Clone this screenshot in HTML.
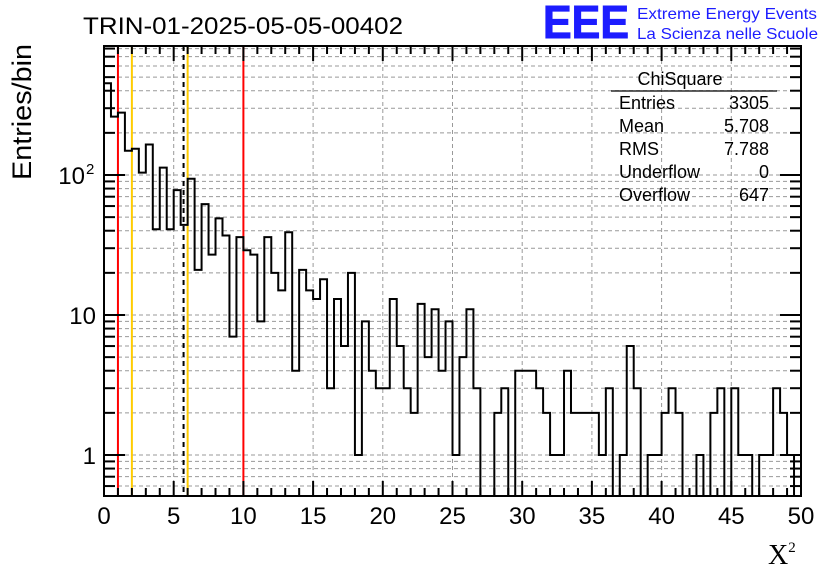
<!DOCTYPE html>
<html><head><meta charset="utf-8"><style>
html,body{margin:0;padding:0;background:#fff;}
svg text{font-family:"Liberation Sans",sans-serif;}
</style></head><body>
<svg id="c" width="836" height="572" viewBox="0 0 836 572">
<defs><clipPath id="pc"><rect x="104" y="46" width="697" height="450"/></clipPath></defs>
<g id="grid"></g>
<g id="marks" clip-path="url(#pc)"></g>
<g id="axes"></g>
<text x="83" y="34" font-size="24" textLength="320" lengthAdjust="spacingAndGlyphs">TRIN-01-2025-05-05-00402</text>
<text x="543" y="38" font-size="46" font-weight="bold" fill="#1c1cff" stroke="#1c1cff" stroke-width="1" textLength="86" lengthAdjust="spacingAndGlyphs">EEE</text>
<text x="637" y="19" font-size="16" fill="#1c1cff" textLength="180" lengthAdjust="spacingAndGlyphs">Extreme Energy Events</text>
<text x="637" y="39" font-size="16" fill="#1c1cff" textLength="181" lengthAdjust="spacingAndGlyphs">La Scienza nelle Scuole</text>
<text transform="translate(31,112) rotate(-90)" font-size="27" text-anchor="middle" textLength="136" lengthAdjust="spacingAndGlyphs">Entries/bin</text>
<text x="768" y="564" font-size="28" style="font-family:'Liberation Serif',serif">X<tspan font-size="15" dy="-12">2</tspan></text>
<g font-size="18">
<text x="680" y="85" text-anchor="middle">ChiSquare</text>
<line x1="611" y1="91" x2="777" y2="91" stroke="#000" stroke-width="1.2"/>
<text x="619" y="109">Entries</text><text x="769" y="109" text-anchor="end">3305</text>
<text x="619" y="132">Mean</text><text x="769" y="132" text-anchor="end">5.708</text>
<text x="619" y="155">RMS</text><text x="769" y="155" text-anchor="end">7.788</text>
<text x="619" y="178">Underflow</text><text x="769" y="178" text-anchor="end">0</text>
<text x="619" y="201">Overflow</text><text x="769" y="201" text-anchor="end">647</text>
</g>
</svg>
<script>
const binWidth = 0.5;
const binCounts = [452,261,279,149,154,104,165,41,113,41,78,44,94,21,62,27,49,37,7,36,
29,27,9,36,20,15,39,4,21,15,13,18,3,13,6,20,1,9,4,3,
3,13,6,3,2,12,5,11,4,9,1,5,11,3,0,0,2,3,0,4,
4,4,3,2,1,1,4,2,2,2,2,1,3,0,1,6,3,0,1,1,
2,3,2,0,0,1,0,2,3,0,3,1,1,0,1,1,3,2,1,0];
const xTicks = [0,5,10,15,20,25,30,35,40,45,50];
const yTickLabels = [[1,"1"],[10,"10"],[100,"10"]];
const markers = [[1,"#ff0000",false],[2,"#ffcc00",false],[5.708,"#000",true],[6,"#ffcc00",false],[10,"#ff0000",false]];
const X0=104,X1=801,Y0=46,Y1=496;
const xs=v=>X0+(v-0)/50*(X1-X0);
const ys=v=>v<=0?Y1+5:455-140*Math.log10(v);
const NS="http://www.w3.org/2000/svg";
function mk(t,p,a){const e=document.createElementNS(NS,t);for(const k in a)e.setAttribute(k,a[k]);p.appendChild(e);return e;}
const grid=document.getElementById('grid'),marks=document.getElementById('marks'),axes=document.getElementById('axes');
for(const t of xTicks){if(t===0||t===50)continue;
const g=mk('line',grid,{x1:xs(t),x2:xs(t),y1:Y0,y2:Y1,stroke:'#999','stroke-dasharray':'4,3','stroke-width':1});

}
const yMinor=[];
for(let d=0.1;d<=100;d*=10)for(let m=1;m<=9;m++){const v=+(d*m).toPrecision(3);const y=ys(v);if(y>Y0&&y<Y1)yMinor.push(v);}
for(const v of yMinor){const g=mk('line',grid,{x1:X0,x2:X1,y1:ys(v),y2:ys(v),stroke:'#999','stroke-dasharray':'4,3','stroke-width':1});

}
for(const [v,c,dash] of markers){const l=mk('line',marks,{x1:xs(v),x2:xs(v),y1:Y0,y2:Y1,stroke:c,'stroke-width':2});
if(dash)l.setAttribute('stroke-dasharray','5,4');

}
let d='M'+xs(0)+','+(Y1+5);
binCounts.forEach((c,i)=>{const y=ys(c);d+=' L'+xs(i*binWidth)+','+y+' L'+xs((i+1)*binWidth)+','+y;});
d+=' L'+xs(50)+','+(Y1+5);
const h=mk('path',marks,{d:d,fill:'none',stroke:'#000','stroke-width':2});


const fr=mk('rect',axes,{x:X0,y:Y0,width:X1-X0,height:Y1-Y0,fill:'none',stroke:'#000','stroke-width':2});


for(let v=0;v<=50;v+=1){const maj=v%5===0;const L=maj?15:8;
mk('line',axes,{x1:xs(v),x2:xs(v),y1:Y1,y2:Y1-L,stroke:'#000','stroke-width':2});
mk('line',axes,{x1:xs(v),x2:xs(v),y1:Y0,y2:Y0+L,stroke:'#000','stroke-width':2});}
for(const t of xTicks){const tx=mk('text',axes,{x:xs(t),y:524,'font-size':24,'text-anchor':'middle'});tx.textContent=t;

}
for(const v of yMinor){const maj=[1,10,100].includes(v);const L=maj?21:11;
mk('line',axes,{x1:X0,x2:X0+L,y1:ys(v),y2:ys(v),stroke:'#000','stroke-width':2});
mk('line',axes,{x1:X1,x2:X1-L,y1:ys(v),y2:ys(v),stroke:'#000','stroke-width':2});}
for(const [v,s] of yTickLabels){
const isPow=v===100;
const tx=mk('text',axes,{x:isPow?85:96,y:ys(v)+9,'font-size':24,'text-anchor':'end'});tx.textContent=s;


if(isPow){const sp=mk('text',axes,{x:86,y:ys(v)-1,'font-size':15,'text-anchor':'start'});sp.textContent='2';

}}
</script>
</body></html>
